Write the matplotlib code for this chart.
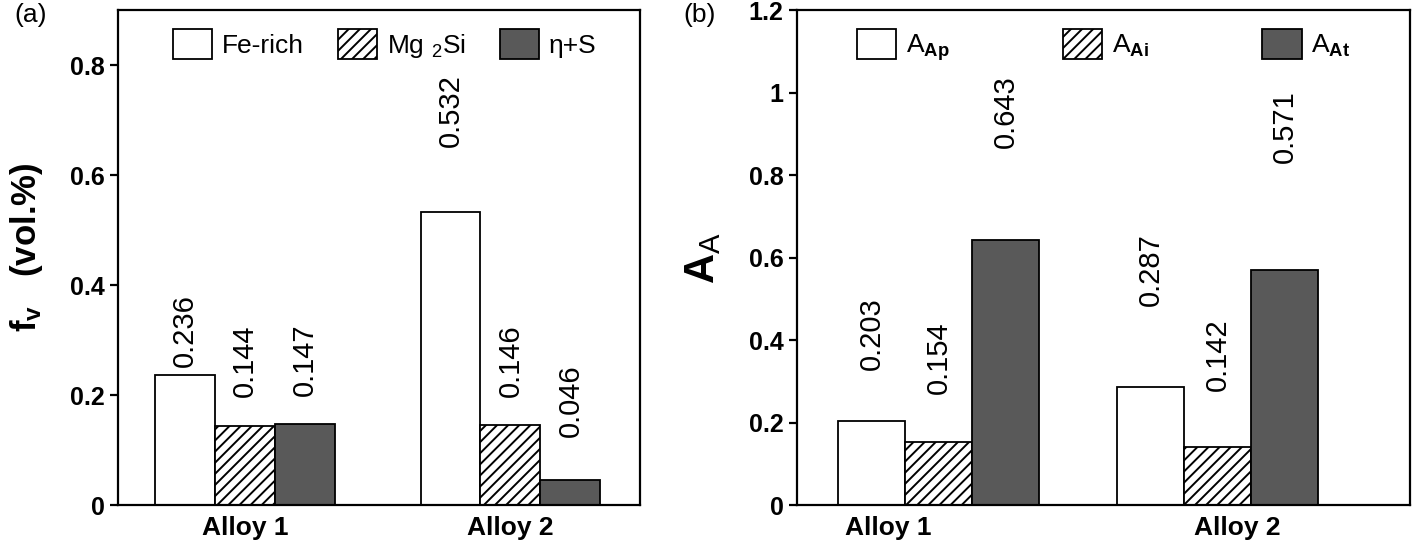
import numpy as np
import matplotlib
matplotlib.use("Agg")
import matplotlib.pyplot as plt
from matplotlib.patches import Patch

plt.rcParams['font.family'] = ['Liberation Sans', 'DejaVu Sans']
plt.rcParams['mathtext.fontset'] = 'custom'
plt.rcParams['mathtext.rm'] = 'Liberation Sans'
plt.rcParams['mathtext.bf'] = 'Liberation Sans:bold'
plt.rcParams['mathtext.it'] = 'Liberation Sans:italic'
plt.rcParams['hatch.linewidth'] = 1.4

# data
alloys = ['Alloy 1', 'Alloy 2']

# (a) volume fraction of phases
fv_names = ['Fe-rich', 'Mg $_2$Si', 'η+S']
fe_rich = [0.236, 0.532]
mg2si = [0.144, 0.146]
eta_s = [0.147, 0.046]

# (b) area fractions
aa_names = [r'A$_{\mathbf{Ap}}$', r'A$_{\mathbf{Ai}}$', r'A$_{\mathbf{At}}$']
a_ap = [0.203, 0.287]
a_ai = [0.154, 0.142]
a_at = [0.643, 0.571]

# bar styles: plain, hatched, dark stipple
styles = [
    dict(facecolor='white', hatch=None),
    dict(facecolor='white', hatch='///'),
    dict(facecolor='#595959', hatch=None),
]
# gap between bar top and its value label (points), placed by hand in the original
gaps_a = [[6, 47], [21, 20], [20, 31]]
gaps_b = [[37, 58], [34, 40], [66, 77]]

fig = plt.figure(figsize=(14.2, 5.6), dpi=100)
ax1 = fig.add_axes([0.083, 0.098, 0.368, 0.884])
ax2 = fig.add_axes([0.561, 0.098, 0.432, 0.884])


def draw_panel(ax, series, names, width, gaps):
    x = np.arange(len(alloys))
    handles = []
    for i, (vals, st) in enumerate(zip(series, styles)):
        xs = x + (i - 1) * width
        ax.bar(xs, vals, width, facecolor=st['facecolor'], hatch=st['hatch'],
               edgecolor='black', linewidth=1.3)
        for xi, v, g in zip(xs, vals, gaps[i]):
            ax.annotate(f'{v:.3f}', (xi, v), xytext=(0, g), textcoords='offset points',
                        rotation=90, ha='center', va='bottom', fontsize=21)
        handles.append(Patch(facecolor=st['facecolor'], hatch=st['hatch'],
                             edgecolor='black', linewidth=1.3, label=names[i]))
    for s in ax.spines.values():
        s.set_linewidth(1.6)
    ax.tick_params(axis='y', direction='out', length=6, width=1.6, labelsize=18)
    ax.tick_params(axis='x', length=0, labelsize=19, pad=8)
    return handles


h1 = draw_panel(ax1, [fe_rich, mg2si, eta_s], fv_names, 0.226, gaps_a)
ax1.set_xlim(-0.48, 1.49)
ax1.set_ylim(0, 0.9)
ax1.set_yticks([0, 0.2, 0.4, 0.6, 0.8])
ax1.set_yticklabels(['0', '0.2', '0.4', '0.6', '0.8'], fontweight='bold')
ax1.set_xticks([0, 1])
ax1.set_xticklabels(alloys, fontweight='bold')
ax1.set_ylabel(r'$\mathbf{f_{v}}$   (vol.%)', fontsize=25, fontweight='bold')
ax1.yaxis.set_label_coords(-0.14, 0.52)
ax1.legend(handles=h1, loc='upper center', bbox_to_anchor=(0.51, 1.0), ncol=3,
           frameon=False, fontsize=19, handlelength=1.5, handleheight=1.4,
           handletextpad=0.35, columnspacing=1.3, borderaxespad=0.3)

h2 = draw_panel(ax2, [a_ap, a_ai, a_at], aa_names, 0.24, gaps_b)
ax2.set_xlim(-0.509, 1.688)
ax2.set_ylim(0, 1.2)
ax2.set_yticks([0, 0.2, 0.4, 0.6, 0.8, 1.0, 1.2])
ax2.set_yticklabels(['0', '0.2', '0.4', '0.6', '0.8', '1', '1.2'], fontweight='bold')
ax2.set_xticks([-0.18, 1.07])
ax2.set_xticklabels(alloys, fontweight='bold')
ax2.set_ylabel(r'$\mathbf{A}_{\mathrm{A}}$', fontsize=30)
ax2.yaxis.set_label_coords(-0.12, 0.5)
ax2.legend(handles=h2, loc='upper center', bbox_to_anchor=(0.50, 1.0), ncol=3,
           frameon=False, fontsize=19, handlelength=1.5, handleheight=1.4,
           handletextpad=0.35, columnspacing=4.3, borderaxespad=0.3)

fig.text(0.010, 0.96, '(a)', fontsize=19)
fig.text(0.481, 0.96, '(b)', fontsize=19)

fig.savefig('out.png', dpi=100)
